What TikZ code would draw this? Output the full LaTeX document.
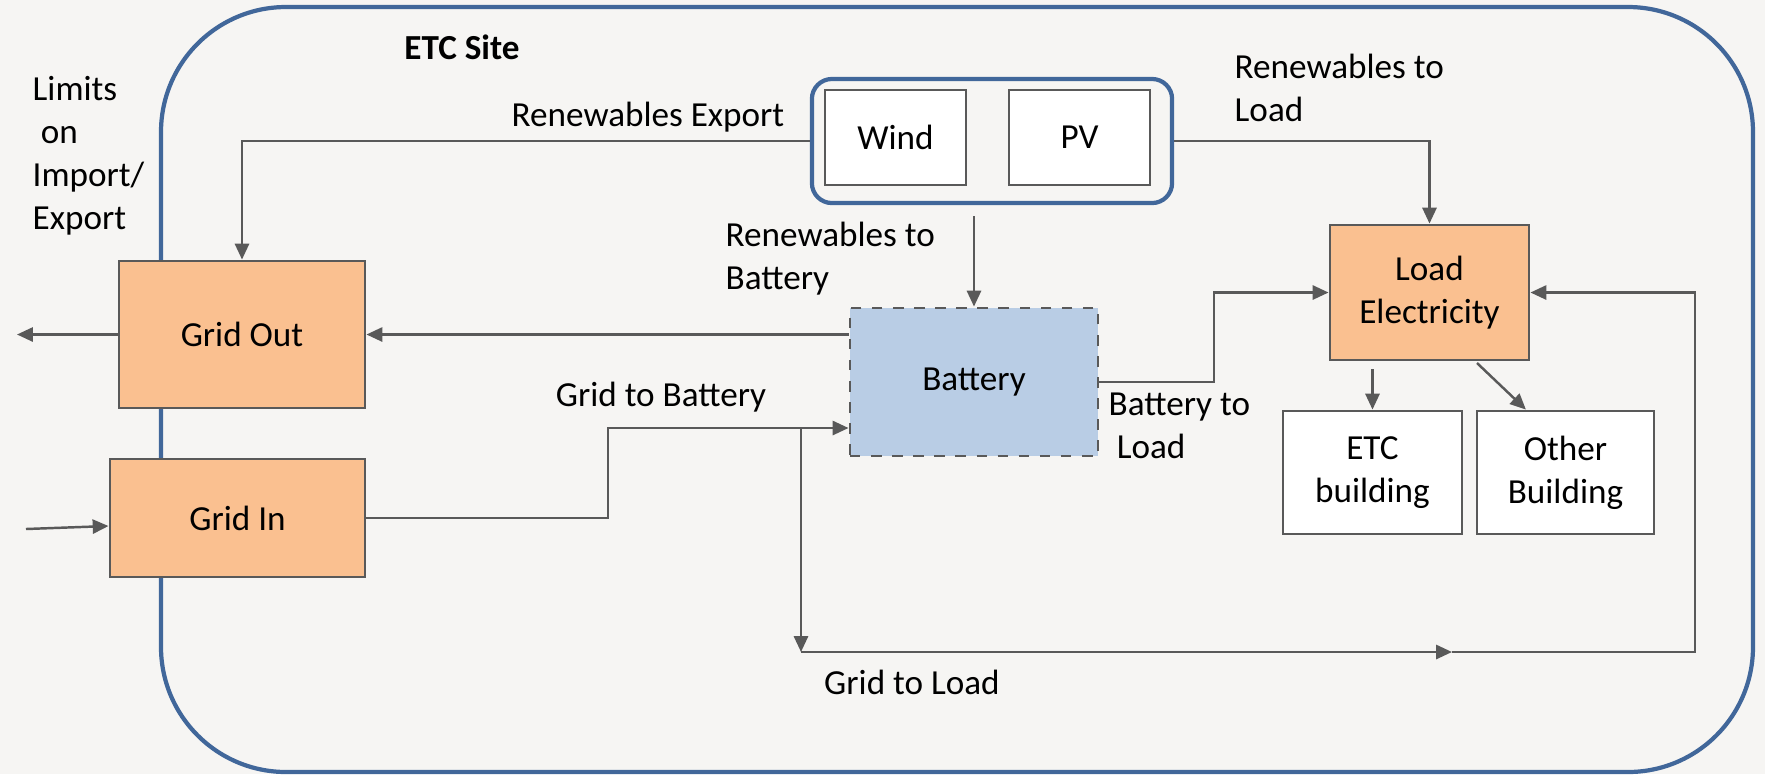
\documentclass[tikz,border=0pt]{standalone}
\usepackage{fontspec}
\setmainfont{Carlito}
\usetikzlibrary{arrows.meta,calc}
\definecolor{bgc}{HTML}{F6F5F3}
\definecolor{framec}{HTML}{41679A}
\definecolor{peach}{HTML}{FAC090}
\definecolor{batblue}{HTML}{B9CDE5}
\definecolor{lgray}{HTML}{595959}
\begin{document}
\begin{tikzpicture}[x=0.01cm,y=-0.01cm,
  every node/.style={font=\fontsize{10}{12.2}\selectfont, text=black},
  box/.style={draw=lgray, line width=0.8pt, inner sep=0pt, align=center},
  obox/.style={box, fill=peach},
  wbox/.style={box, fill=white},
  arr/.style={draw=lgray, line width=0.7pt, -{Triangle[length=4.5pt,width=4pt]}},
  lbl/.style={inner sep=0pt, align=left}]
% background and site frame
\fill[bgc] (0,0) rectangle (1765,774);
\draw[framec, line width=1.2pt, rounded corners=1.25cm] (161,7) rectangle (1753,772);
% boxes
\node[obox, minimum width=2.46cm, minimum height=1.47cm] (gout) at (242,334.5) {Grid Out};
\node[obox, minimum width=2.55cm, minimum height=1.18cm] (gin) at (237.5,518) {Grid In};
\node[box, fill=batblue, dashed, minimum width=2.48cm, minimum height=1.48cm] (bat) at (974,382) {Battery};
\node[draw=framec, line width=1.2pt, rounded corners=0.2cm, minimum width=3.6cm, minimum height=1.24cm, inner sep=0pt] (ren) at (992,141) {};
\node[wbox, minimum width=1.41cm, minimum height=0.95cm] (wind) at (895.5,137.5) {Wind};
\node[wbox, minimum width=1.41cm, minimum height=0.95cm] (pv) at (1079.5,137.5) {PV};
\node[obox, minimum width=1.99cm, minimum height=1.35cm] (load) at (1429.5,292.5) {Load\\Electricity};
\node[wbox, minimum width=1.79cm, minimum height=1.23cm] (etcb) at (1372.5,472.5) {ETC\\building};
\node[wbox, minimum width=1.77cm, minimum height=1.23cm] (othb) at (1565.5,472.5) {Other\\Building};
% labels
\node[font=\fontsize{10}{12.2}\selectfont\bfseries] (site) at (462,47) {ETC Site};
\node[lbl, anchor=west] (limits) at (32,156) {Limits\\\hspace*{0.23em}on\\Import/\\Export};
\node[lbl] (lrex) at (648,117) {Renewables Export};
\node[lbl, anchor=west] (lrb) at (725,259) {Renewables to\\Battery};
\node[lbl, anchor=west] (lrl) at (1234,88) {Renewables to\\Load};
\node[lbl] (lgb) at (661,397) {Grid to Battery};
\node[lbl, anchor=west] (lbl2) at (1108,426) {Battery to\\\hspace*{0.23em}Load};
\node[lbl] (lgl) at (912,682) {Grid to Load};
% coordinates
\coordinate (gOutEnd) at (17,334.5);
\coordinate (gInStart) at (26,529);
\coordinate (gbCorner) at (608,428);
\coordinate (branch) at (801,428);
\coordinate (glCorner) at (801,652);
\coordinate (glMid) at (1452,652);
\coordinate (rc) at (1695,292.5);
\coordinate (blCorner) at (1214,292.5);
\coordinate (rbStart) at (974,216);
\coordinate (leStart) at (1372.5,369);
\coordinate (loStart) at (1477,363);
% connectors
\draw[arr] (ren.west) -| (gout.north);
\draw[arr] (bat.west |- gout.east) -- (gout.east);
\draw[arr] (gout.west) -- (gOutEnd);
\draw[arr] (gInStart) -- ($(gin.west)+(0,8)$);
\draw[arr] (gin.east) -| (gbCorner) -- (bat.west |- gbCorner);
\draw[arr] (branch) -- (glCorner);
\draw[arr] (glCorner) -- (glMid);
\draw[arr] (glMid) -| (rc) -- (load.east);
\draw[arr] (bat.east) -| (blCorner) -- (load.west);
\draw[arr] (ren.east) -| (load.north);
\draw[arr] (rbStart) -- (bat.north);
\draw[arr] (leStart) -- (etcb.north);
\draw[arr] (loStart) -- ($(othb.north west)!0.28!(othb.north east)$);
\end{tikzpicture}
\end{document}
